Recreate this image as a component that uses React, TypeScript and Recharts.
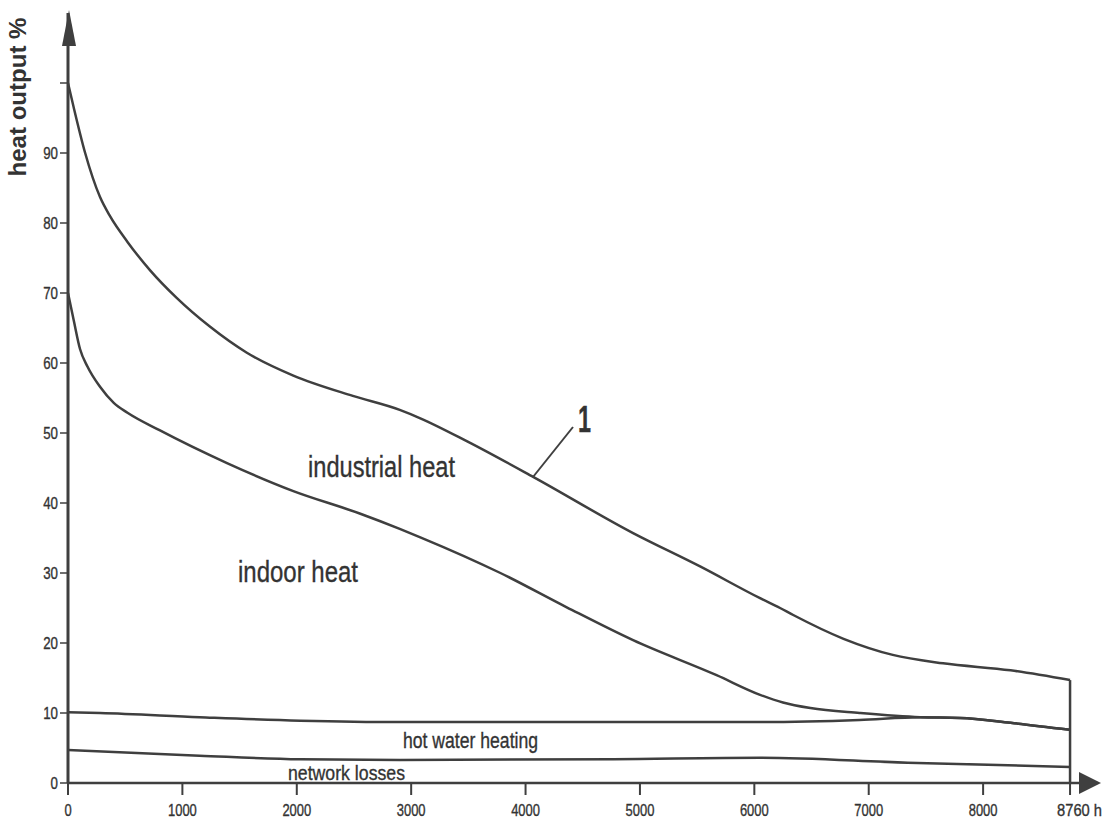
import { LineChart, Line, XAxis, YAxis, ReferenceLine } from "recharts"

const INK = "#3f3f3f"
const SANS = "'Liberation Sans', Arial, sans-serif"

// annual heat load duration curves, hours vs % of peak
const TOTAL_HOURS = [0, 50, 150, 280, 370, 520, 720, 950, 1240, 1560, 1970, 2490, 2900, 3080, 3490, 4070, 4940, 5530, 6050, 6225, 6340, 6780, 7210, 7650, 8240, 8760]
const TOTAL_LOAD = [100, 96.5, 90, 83.7, 80.9, 77.3, 73.2, 69.3, 65.2, 61.5, 58.2, 55.3, 53.3, 52.1, 48.8, 43.7, 35.7, 30.9, 26.4, 25.0, 24.0, 20.6, 18.3, 17.1, 16.1, 14.7]

const INDOOR_HOURS = [0, 50, 105, 170, 280, 400, 520, 800, 1390, 1970, 2550, 2900, 3080, 3780, 4360, 4940, 5670, 6050, 6250, 6490, 6920, 7450, 7800, 8240, 8760]
const INDOOR_LOAD = [70, 66.1, 62, 59.5, 56.6, 54.3, 52.9, 50.4, 45.7, 41.7, 38.5, 36.3, 35.1, 30, 25.1, 20.4, 15.4, 12.6, 11.5, 10.7, 10.0, 9.4, 9.3, 8.6, 7.6]

const HOT_WATER_HOURS = [0, 280, 1150, 2030, 2900, 4770, 6050, 6920, 7450, 7800, 8240, 8760]
const HOT_WATER_LOAD = [10.1, 10.0, 9.4, 8.9, 8.7, 8.7, 8.7, 9.0, 9.4, 9.3, 8.6, 7.6]

const LOSSES_HOURS = [0, 1150, 2030, 2900, 4770, 6050, 7340, 8760]
const LOSSES_LOAD = [4.7, 3.9, 3.4, 3.3, 3.4, 3.6, 2.9, 2.3]

const X_TICKS = [0, 1000, 2000, 3000, 4000, 5000, 6000, 7000, 8000, 8760]
const Y_TICKS = [0, 10, 20, 30, 40, 50, 60, 70, 80, 90, 100]

const toPoints = (hours: number[], load: number[]) => hours.map((h, i) => ({ h, v: load[i] }))

const series = [
  { name: "total", data: toPoints(TOTAL_HOURS, TOTAL_LOAD) },
  { name: "indoor", data: toPoints(INDOOR_HOURS, INDOOR_LOAD) },
  { name: "hotWater", data: toPoints(HOT_WATER_HOURS, HOT_WATER_LOAD) },
  { name: "losses", data: toPoints(LOSSES_HOURS, LOSSES_LOAD) },
]

// the scan uses a condensed grotesque, squeeze Liberation Sans to match
function Squeezed({ x, y, text, size, width, anchor = "start", bold = false }: any) {
  return (
    <text
      x={x}
      y={y}
      textAnchor={anchor}
      fontFamily={SANS}
      fontSize={size}
      fontWeight={bold ? "bold" : "normal"}
      fill="#333"
      stroke="#333"
      strokeWidth={0.35}
      textLength={width}
      lengthAdjust="spacingAndGlyphs"
    >
      {text}
    </text>
  )
}

function XTick(props: any) {
  const { x, y, payload } = props
  const ty = y + 9
  if (payload.value === 8760) {
    return <Squeezed x={x - 13} y={ty} text="8760 h" size={17} width={45} />
  }
  const s = String(payload.value)
  return <Squeezed x={x} y={ty} text={s} size={17} width={s.length * 7.2} anchor="middle" />
}

function YTick(props: any) {
  const { x, y, payload } = props
  if (payload.value === 100) return null
  const s = String(payload.value)
  return <Squeezed x={x} y={y + 6} text={s} size={17} width={s.length * 7.4} anchor="end" />
}

export default function App() {
  const lastTotal = TOTAL_LOAD[TOTAL_LOAD.length - 1]
  return (
    <div style={{ position: "absolute", left: 0, top: 0, width: 1112, height: 820, background: "#fff" }}>
      <LineChart width={1112} height={820} margin={{ top: 13, right: 14.5, bottom: 0, left: 0 }}>
        <XAxis
          type="number"
          dataKey="h"
          domain={[0, 9000]}
          ticks={X_TICKS}
          height={37}
          tickSize={12}
          tickMargin={12}
          tick={<XTick />}
          axisLine={{ stroke: INK, strokeWidth: 2.5 }}
          tickLine={{ stroke: INK, strokeWidth: 2 }}
          allowDataOverflow
        />
        <YAxis
          type="number"
          domain={[0, 110]}
          ticks={Y_TICKS}
          width={68}
          tickSize={8}
          tickMargin={2}
          tick={<YTick />}
          axisLine={{ stroke: INK, strokeWidth: 3 }}
          tickLine={{ stroke: INK, strokeWidth: 1.5 }}
          allowDataOverflow
        />
        {series.map((s) => (
          <Line
            key={s.name}
            data={s.data}
            dataKey="v"
            type="monotone"
            stroke={INK}
            strokeWidth={2.5}
            dot={false}
            activeDot={false}
            isAnimationActive={false}
          />
        ))}
        <ReferenceLine
          segment={[
            { x: 8760, y: 0 },
            { x: 8760, y: lastTotal },
          ]}
          stroke={INK}
          strokeWidth={2.5}
        />
      </LineChart>
      <svg
        width={1112}
        height={820}
        style={{ position: "absolute", left: 0, top: 0, pointerEvents: "none" }}
      >
        <polygon points="69,10 62,46 76,46" fill={INK} />
        <polygon points="1101,783 1079,772 1079,794" fill={INK} />
        <text
          x={26}
          y={97}
          transform="rotate(-90 26 97)"
          textAnchor="middle"
          fontFamily={SANS}
          fontWeight="bold"
          fontSize={23}
          fill="#333"
          textLength={159}
          lengthAdjust="spacingAndGlyphs"
        >
          heat output %
        </text>
        <line x1={533} y1={477} x2={573} y2={427} stroke={INK} strokeWidth={2} />
        <Squeezed x={578} y={432} text="1" size={37} width={13} bold />
        <Squeezed x={308} y={477} text="industrial heat" size={29} width={147} />
        <Squeezed x={238} y={582} text="indoor heat" size={30} width={120} />
        <Squeezed x={403} y={748} text="hot water heating" size={22} width={135} />
        <Squeezed x={288} y={780} text="network losses" size={21} width={117} />
      </svg>
    </div>
  )
}
